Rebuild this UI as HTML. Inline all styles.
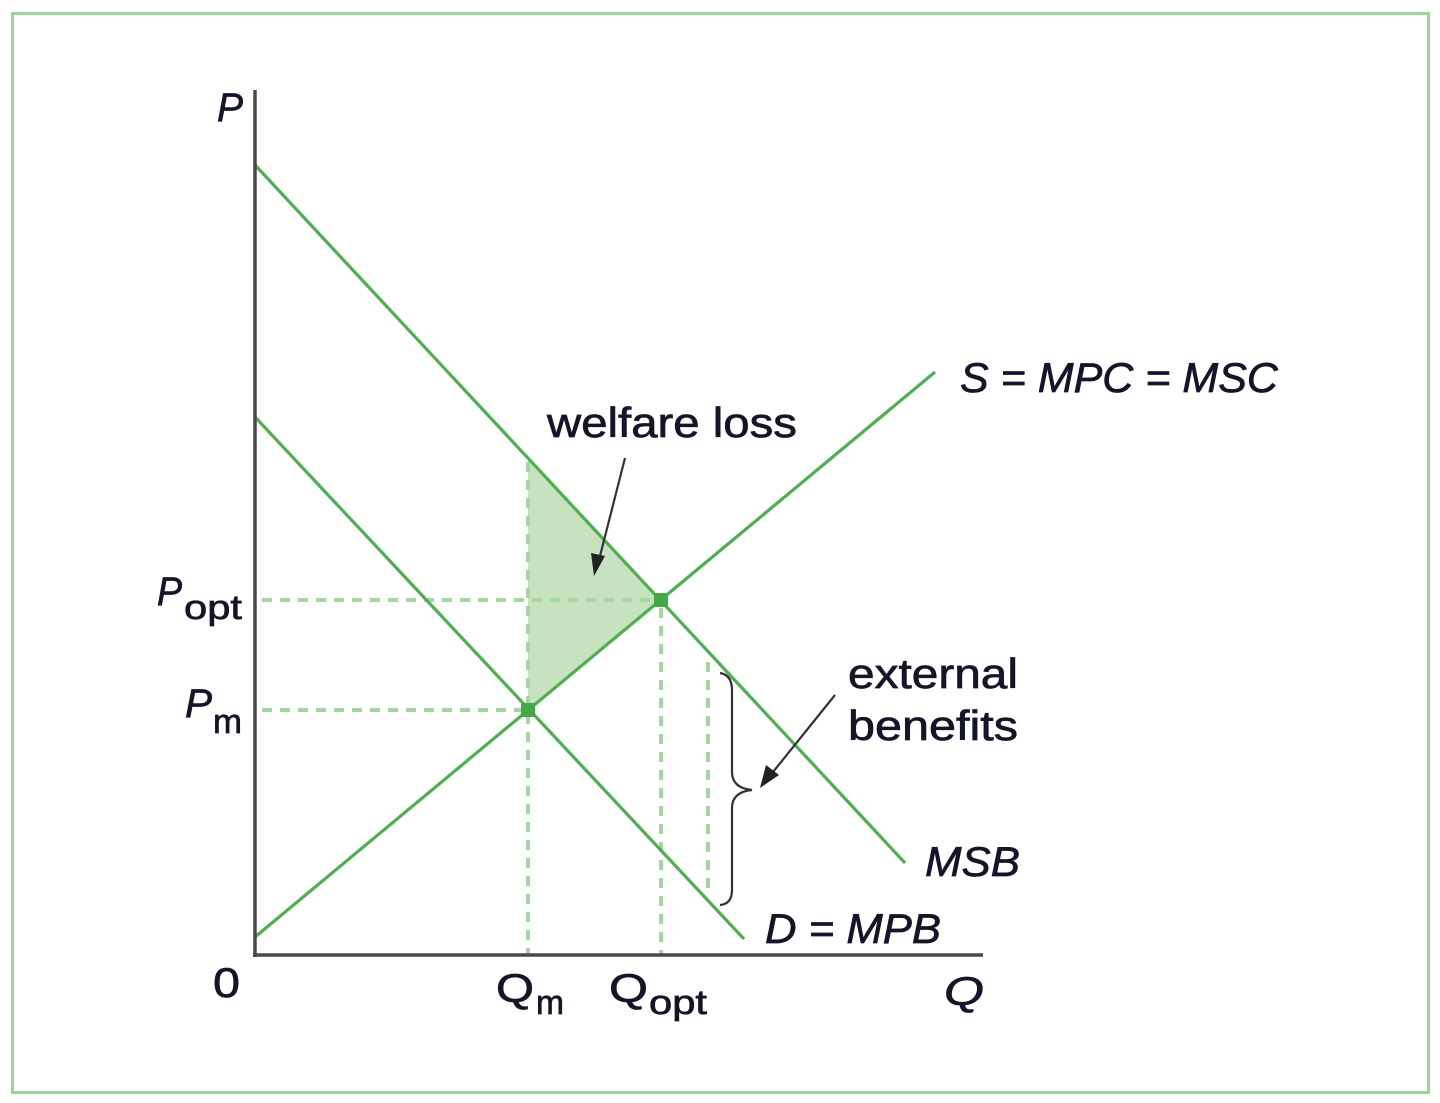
<!DOCTYPE html>
<html>
<head>
<meta charset="utf-8">
<style>
  html, body { margin:0; padding:0; background:#fff; }
  body { width:1440px; height:1103px; overflow:hidden; }
  svg { display:block; }
  text { font-family: "Liberation Sans", "DejaVu Sans", sans-serif; fill:#15152a; stroke:#15152a; stroke-width:0.7; }
  .it { font-style: italic; }
</style>
</head>
<body>
<svg width="1440" height="1103" viewBox="0 0 1440 1103" xmlns="http://www.w3.org/2000/svg">
  <!-- outer border -->
  <rect x="12.5" y="13.5" width="1416" height="1079" fill="none" stroke="#9ed39c" stroke-width="3"/>

  <!-- welfare loss triangle -->
  <polygon points="528,459 661,600 528,710" fill="#c6e2bf"/>

  <!-- dashed guides -->
  <g stroke="#a3d79f" stroke-width="4" stroke-dasharray="10,8" fill="none">
    <line x1="262" y1="600" x2="655" y2="600"/>
    <line x1="262" y1="710" x2="522" y2="710"/>
    <line x1="528" y1="462" x2="528" y2="955"/>
    <line x1="661" y1="608" x2="661" y2="955"/>
    <line x1="708" y1="662" x2="708" y2="890"/>
  </g>

  <!-- curves -->
  <g stroke="#50ae50" stroke-width="3.2" fill="none" stroke-linecap="butt">
    <line x1="255" y1="165" x2="905" y2="863"/>
    <line x1="255" y1="417" x2="744" y2="939"/>
    <line x1="255" y1="937" x2="935" y2="372"/>
  </g>

  <!-- intersection dots -->
  <rect x="521" y="703" width="14" height="14" fill="#45a845"/>
  <rect x="654" y="593" width="14" height="14" fill="#45a845"/>

  <!-- axes -->
  <line x1="255" y1="90" x2="255" y2="957" stroke="#4a4a4a" stroke-width="3.5"/>
  <line x1="253" y1="955" x2="983" y2="955" stroke="#4a4a4a" stroke-width="3.5"/>

  <!-- brace -->
  <path d="M720,673 Q732,675 732,690 L732,772 Q732,788 752,790 Q732,792 732,808 L732,890 Q732,904 720,905"
        fill="none" stroke="#333" stroke-width="2.2"/>

  <!-- arrows -->
  <g stroke="#333" stroke-width="2.2" fill="#222">
    <line x1="625" y1="458" x2="600" y2="556"/>
    <polygon points="594,576 591,553 605,556" stroke="none"/>
    <line x1="835" y1="695" x2="773" y2="772"/>
    <polygon points="760,788 766,765 779,775" stroke="none"/>
  </g>

  <!-- labels -->
  <text x="217" y="121" font-size="40" class="it" textLength="26" lengthAdjust="spacingAndGlyphs">P</text>

  <text x="157" y="605" font-size="40" class="it" textLength="25" lengthAdjust="spacingAndGlyphs">P</text>
  <text x="184" y="619" font-size="34" textLength="58" lengthAdjust="spacingAndGlyphs">opt</text>

  <text x="185" y="717" font-size="40" class="it" textLength="27" lengthAdjust="spacingAndGlyphs">P</text>
  <text x="213" y="733" font-size="34" textLength="29" lengthAdjust="spacingAndGlyphs">m</text>

  <text x="213" y="997" font-size="42" textLength="27" lengthAdjust="spacingAndGlyphs">0</text>

  <text x="496" y="1002" font-size="40" textLength="38" lengthAdjust="spacingAndGlyphs">Q</text>
  <text x="536" y="1014" font-size="34" textLength="28" lengthAdjust="spacingAndGlyphs">m</text>

  <text x="609" y="1002" font-size="40" textLength="39" lengthAdjust="spacingAndGlyphs">Q</text>
  <text x="649" y="1014" font-size="34" textLength="58" lengthAdjust="spacingAndGlyphs">opt</text>

  <text x="944" y="1005" font-size="40" class="it" textLength="40" lengthAdjust="spacingAndGlyphs">Q</text>

  <text x="547" y="437" font-size="42" textLength="250" lengthAdjust="spacingAndGlyphs">welfare loss</text>

  <text x="960" y="392" font-size="42" class="it" textLength="318" lengthAdjust="spacingAndGlyphs">S = MPC = MSC</text>

  <text x="848" y="688" font-size="42" textLength="170" lengthAdjust="spacingAndGlyphs">external</text>
  <text x="848" y="740" font-size="42" textLength="170" lengthAdjust="spacingAndGlyphs">benefits</text>

  <text x="925" y="876" font-size="42" class="it" textLength="95" lengthAdjust="spacingAndGlyphs">MSB</text>

  <text x="765" y="943" font-size="42" class="it" textLength="176" lengthAdjust="spacingAndGlyphs">D = MPB</text>
</svg>
</body>
</html>
